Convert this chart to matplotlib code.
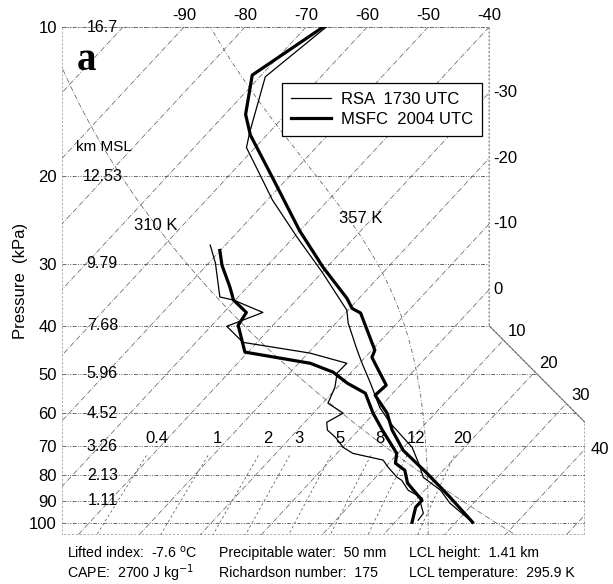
import numpy as np
import matplotlib
matplotlib.use('Agg')
import matplotlib.pyplot as plt
from matplotlib.patches import Polygon
from matplotlib.lines import Line2D
from matplotlib.ticker import NullLocator

plt.rcParams['font.family'] = ['Liberation Sans', 'DejaVu Sans']

SKEW = 75.6          # degC of skew per decade of pressure
P_TOP, P_BOT = 10.0, 105.6
X_LEFT, X_RIGHT = -110.0, -24.3

levels = [10, 20, 30, 40, 50, 60, 70, 80, 90, 100]
heights = ['16.7', '12.53', '9.79', '7.68', '5.96', '4.52', '3.26', '2.13', '1.11']
top_temps = [-90, -80, -70, -60, -50, -40]
side_temps = [-30, -20, -10, 0]
diag_temps = [10, 20, 30]
isotherms = np.arange(-110, 51, 10)
mix_ratios = [0.4, 1, 2, 3, 5, 8, 12, 20]
theta_dry = 310
theta_e_label = 357
parcel_t100 = 25.6   # degC at 100 kPa on the 357 K curve

# MSFC 2004 UTC (thick)
msfc_p = [10.0, 12.5, 15.0, 16.5, 20.1, 25.7, 30.5, 35.2, 36.9, 37.7, 44.8, 46.3,
          49.8, 52.7, 55.2, 60.0, 64.9, 71.3, 79.3, 88.6, 99.5]
msfc_t = [-67.2, -71.5, -66.6, -62.7, -52.6, -40.1, -30.6, -22.0, -19.6, -17.5, -9.5, -8.9,
          -5.2, -2.3, -2.6, 2.1, 5.5, 10.4, 17.8, 25.2, 32.7]
msfc_dp = [28.2, 30.2, 33.4, 35.5, 37.6, 39.9, 45.2, 47.6, 49.6, 52.2, 54.7, 60.0,
           64.9, 72.3, 75.7, 78.2, 83.0, 89.9, 92.8, 99.5]
msfc_td = [-50.1, -47.5, -42.9, -40.3, -36.3, -35.7, -30.5, -18.1, -13.0, -9.0, -4.5, -0.2,
           3.9, 9.8, 11.1, 13.7, 16.1, 21.1, 21.1, 22.8]

# RSA 1730 UTC (thin)
rsa_p = [10.0, 12.6, 16.3, 17.5, 19.4, 22.3, 26.5, 31.2, 37.2, 39.5, 44.8, 47.6,
         52.2, 58.4, 62.9, 70.3, 75.7, 80.8, 85.8, 91.1, 98.6]
rsa_t = [-66.7, -69.1, -63.2, -61.4, -56.2, -49.2, -39.5, -30.0, -20.2, -18.0, -12.4, -9.6,
         -5.2, 0.0, 4.2, 11.4, 14.9, 17.8, 22.6, 26.1, 32.0]
rsa_dp = [27.5, 29.9, 35.0, 35.5, 37.6, 40.1, 43.2, 45.4, 47.6, 49.8, 53.2, 57.3, 60.0,
          62.6, 64.9, 67.1, 70.3, 72.3, 74.6, 77.1, 80.8, 81.9, 85.8, 89.0, 91.1, 95.5, 98.6]
rsa_td = [-52.5, -48.9, -43.0, -40.3, -33.6, -37.4, -32.3, -19.7, -12.1, -12.2, -10.4, -9.1, -5.1,
          -6.4, -5.1, -2.7, 0.1, 2.6, 8.6, 10.5, 13.5, 14.7, 17.3, 20.8, 21.3, 23.3, 23.5]


def skx(t, p):
    return np.asarray(t, float) - SKEW * np.log10(np.asarray(p, float) / 10.0)


def moist_adiabat(t0, p0, p_end, n=400):
    ps = np.geomspace(p0, p_end, n)
    ts = [t0 + 273.15]
    for i in range(1, n):
        T, p = ts[-1], ps[i - 1]
        es = 0.6112 * np.exp(17.67 * (T - 273.15) / (T - 29.65))
        rs = 0.622 * es / (p - es)
        dtdp = (287.0 * T + 2.5e6 * rs) / (p * (1004.0 + 2.5e6 ** 2 * rs * 0.622 / (287.0 * T ** 2)))
        ts.append(T + dtdp * (ps[i] - p))
    return ps, np.array(ts) - 273.15


fig = plt.figure(figsize=(6.13, 5.84), dpi=100)
ax = fig.add_axes([62 / 613, 1 - 535 / 584, 523 / 613, 508 / 584])
ax.set_yscale('log')
ax.set_ylim(P_BOT, P_TOP)
ax.set_xlim(X_LEFT, X_RIGHT)
for s in ax.spines.values():
    s.set_visible(False)

# frame
lo = np.log10(40.0)
frame = Polygon([(X_LEFT, P_TOP), (-40, P_TOP), (-40, 40), (X_RIGHT, 62.6),
                 (X_RIGHT, P_BOT), (X_LEFT, P_BOT)], closed=True, fill=False,
                edgecolor='0.45', lw=0.8, linestyle=(0, (2, 1.5)), zorder=1)
ax.add_patch(frame)
ax.plot([-40, X_RIGHT], [40, 62.6], color='0.4', lw=0.6, zorder=1)

grid_col = '0.4'
pp = np.geomspace(P_TOP, P_BOT, 200)

# isobars
for p in levels:
    ln, = ax.plot([X_LEFT, X_RIGHT], [p, p], color=grid_col, lw=0.7,
                  linestyle=(0, (4, 1.5, 1, 1.5, 1, 1.5)), zorder=1)
    ln.set_clip_path(frame)

# isotherms
for t in isotherms:
    ln, = ax.plot(skx(t, pp), pp, color=grid_col, lw=0.55, linestyle=(0, (7, 2, 1, 2)), zorder=1)
    ln.set_clip_path(frame)

# dry adiabat
td = theta_dry * (pp / 100.0) ** 0.286 - 273.15
ln, = ax.plot(skx(td, pp), pp, color=grid_col, lw=0.55, linestyle=(0, (7, 2, 1, 2)), zorder=1)
ln.set_clip_path(frame)

# moist adiabat (357 K)
mp_up, mt_up = moist_adiabat(parcel_t100, 100.0, P_TOP)
mp_dn, mt_dn = moist_adiabat(parcel_t100, 100.0, P_BOT, n=20)
mp = np.concatenate([mp_dn[::-1], mp_up])
mt = np.concatenate([mt_dn[::-1], mt_up])
ln, = ax.plot(skx(mt, mp), mp, color=grid_col, lw=0.6, linestyle=(0, (5, 2.5, 1, 2.5)), zorder=1)
ln.set_clip_path(frame)

# mixing ratio lines
mpp = np.geomspace(73.0, P_BOT, 50)
for w in mix_ratios:
    e = w * mpp * 10 / (622.0 + w)
    a = np.log(e / 6.112)
    tdw = 243.5 * a / (17.67 - a)
    ln, = ax.plot(skx(tdw, mpp), mpp, color=grid_col, lw=0.6, linestyle=(0, (3, 3)), zorder=1)
    ln.set_clip_path(frame)
    e70 = w * 700 / (622.0 + w)
    a70 = np.log(e70 / 6.112)
    x70 = skx(243.5 * a70 / (17.67 - a70), 70)
    ax.annotate(f'{w:g}', (x70, 70), xytext=(3, 0), textcoords='offset points',
                ha='center', va='bottom', fontsize=12)

# soundings
ax.plot(skx(rsa_t, rsa_p), rsa_p, color='black', lw=0.9, zorder=3)
ax.plot(skx(rsa_td, rsa_dp), rsa_dp, color='black', lw=0.9, zorder=3)
ax.plot(skx(msfc_t, msfc_p), msfc_p, color='black', lw=2.3, zorder=4)
ax.plot(skx(msfc_td, msfc_dp), msfc_dp, color='black', lw=2.3, zorder=4)

# axes labels
ax.set_yticks(levels)
ax.set_yticklabels([str(p) for p in levels], fontsize=12)
ax.yaxis.set_minor_locator(NullLocator())
ax.xaxis.tick_top()
ax.set_xticks(top_temps)
ax.set_xticklabels([str(t) for t in top_temps], fontsize=12)
ax.tick_params(length=0, pad=3)
ax.tick_params(axis='y', pad=3.6)
ax.set_ylabel('Pressure  (kPa)', fontsize=12, labelpad=1)

for t in side_temps:
    p = 10 * 10 ** ((t + 40) / SKEW)
    ax.annotate(str(t), (-40, p), xytext=(3, 0), textcoords='offset points',
                ha='left', va='center', fontsize=12)
for t in diag_temps:
    s = (t + 40 - SKEW * (lo - 1)) / ((X_RIGHT + 40) + SKEW * np.log10(62.6 / 40))
    x = -40 + s * (X_RIGHT + 40)
    p = 10 ** (lo + s * np.log10(62.6 / 40))
    ax.annotate(str(t), (x, p), xytext=(10, 6), textcoords='offset points',
                ha='center', va='center', fontsize=12)
p40 = 10 * 10 ** ((40 - X_RIGHT) / SKEW)
ax.annotate('40', (X_RIGHT, p40), xytext=(4, 0), textcoords='offset points',
            ha='left', va='center', fontsize=12)

for p, h in zip(levels, heights):
    ax.annotate(h, (X_LEFT, p), xytext=(29, 0), textcoords='offset points',
                ha='center', va='center', fontsize=11.5)
ax.annotate('km MSL', (X_LEFT, 17.46), xytext=(30, 0), textcoords='offset points',
            ha='center', va='center', fontsize=11)

p310 = 25.1
ax.text(skx(theta_dry * (p310 / 100) ** 0.286 - 273.15, p310), p310, f'{theta_dry} K',
        ha='center', va='center', fontsize=12)
p357 = 24.3
ax.annotate(f'{theta_e_label} K', (skx(np.interp(p357, mp_up[::-1], mt_up[::-1]), p357), p357),
            xytext=(9, 0), textcoords='offset points', ha='center', va='center', fontsize=12)

ax.text(0.029, 0.935, 'a', transform=ax.transAxes, fontsize=28, fontweight='bold',
        family='Liberation Serif', va='center', ha='left')

handles = [Line2D([], [], color='black', lw=0.9), Line2D([], [], color='black', lw=2.3)]
leg = ax.legend(handles, ['RSA  1730 UTC', 'MSFC  2004 UTC'], loc='upper left',
                bbox_to_anchor=(0.4207, 0.8898), borderaxespad=0, fontsize=12,
                frameon=True, fancybox=False, edgecolor='black', framealpha=1,
                handlelength=2.4, handletextpad=0.6, borderpad=0.55, labelspacing=0.3)
leg.get_frame().set_linewidth(0.9)

fs = 10.2
rows = [(553, ['Lifted index:  -7.6 $^{\\mathrm{o}}$C', 'Precipitable water:  50 mm', 'LCL height:  1.41 km']),
        (573, ['CAPE:  2700 J kg$^{-1}$', 'Richardson number:  175', 'LCL temperature:  295.9 K'])]
cols = [67, 219, 409]
for y, texts in rows:
    for x, s in zip(cols, texts):
        fig.text(x / 613, 1 - y / 584, s, fontsize=fs, ha='left', va='center')

fig.savefig('out.png', dpi=100)
